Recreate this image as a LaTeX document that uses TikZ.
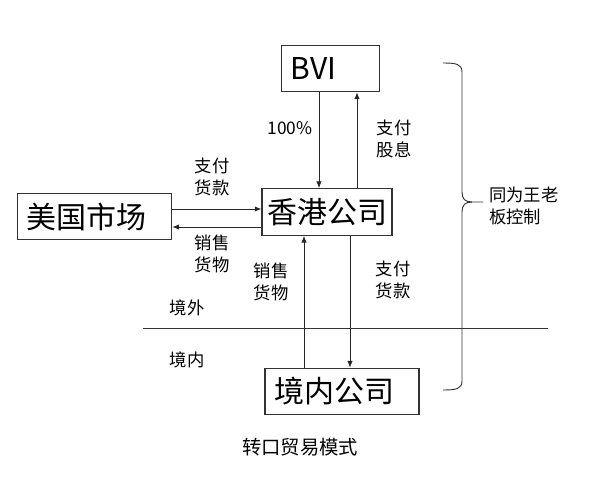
\documentclass[tikz,border=0pt]{standalone}
\usepackage{fontspec}
\setmainfont{Noto Sans CJK SC}
\usetikzlibrary{arrows.meta}

\tikzset{
  box/.style={draw=black!80, line width=0.8pt, minimum height=35pt, inner xsep=7pt,
    align=left, text width=#1, font=\fontsize{22.5}{26}\selectfont},
  lbl/.style={inner sep=0pt, align=left, font=\fontsize{13}{17}\selectfont},
  flow/.style={draw=black!85, line width=0.6pt, -{Latex[length=5pt,width=4pt]}},
  rule/.style={draw=black!80, line width=0.7pt},
}

\begin{document}
\begin{tikzpicture}[x=0.75pt,y=-0.75pt]
    \useasboundingbox (0,0) rectangle (589,488);
    % boxes
    \node[box=60pt] (bvi) at (330.5,68.5) {BVI};
    \node[box=89.5pt, inner xsep=4pt] (hk) at (327,212) {香港公司};
    \node[box=102pt] (us) at (94.5,216.5) {美国市场};
    \node[box=101.5pt] (cn) at (342,391.5) {境内公司};
    % where the arrows run
    \coordinate (x1) at (319,0);
    \coordinate (x2) at (357,0);
    \coordinate (x3) at (304,0);
    \coordinate (x4) at (350,0);
    \coordinate (y1) at (0,209);
    \coordinate (y2) at (0,227);
    \draw[flow] (bvi.south -| x1) -- (hk.north -| x1);
    \draw[flow] (hk.north -| x2) -- (bvi.south -| x2);
    \draw[flow] (us.east |- y1) -- (hk.west |- y1);
    \draw[flow] (hk.west |- y2) -- (us.east |- y2);
    \draw[flow] (cn.north -| x3) -- (hk.south -| x3);
    \draw[flow] (hk.south -| x4) -- (cn.north -| x4);
    % labels
    \node[lbl] (pct) at (290,128) {100\%};
    \node[lbl] (div) at (394,139) {支付\\股息};
    \node[lbl] (pay1) at (212,177) {支付\\货款};
    \node[lbl] (sell1) at (212,254) {销售\\货物};
    \node[lbl] (sell2) at (271,282) {销售\\货物};
    \node[lbl] (pay2) at (393,280) {支付\\货款};
    \node[lbl] (out) at (187,308) {境外};
    \node[lbl] (in) at (187,360) {境内};
    % border line and brace
    \draw[rule] (143,328) -- (548,328);
    \draw[rule] (443,63) .. controls (456,63) and (462,64) .. (462,72) -- (462,192)
      .. controls (462,199) and (465,202) .. (472,202) -- (483,202);
    \draw[rule] (472,202) .. controls (465,202) and (462,205) .. (462,212) -- (462,381)
      .. controls (462,389) and (456,390) .. (443,390);
    \node[lbl, anchor=west] (ctrl) at (489,206) {同为王老\\板控制};
    \node[inner sep=0pt, font=\fontsize{14.5}{17}\selectfont] (title) at (300,447) {转口贸易模式};
\end{tikzpicture}
\end{document}
